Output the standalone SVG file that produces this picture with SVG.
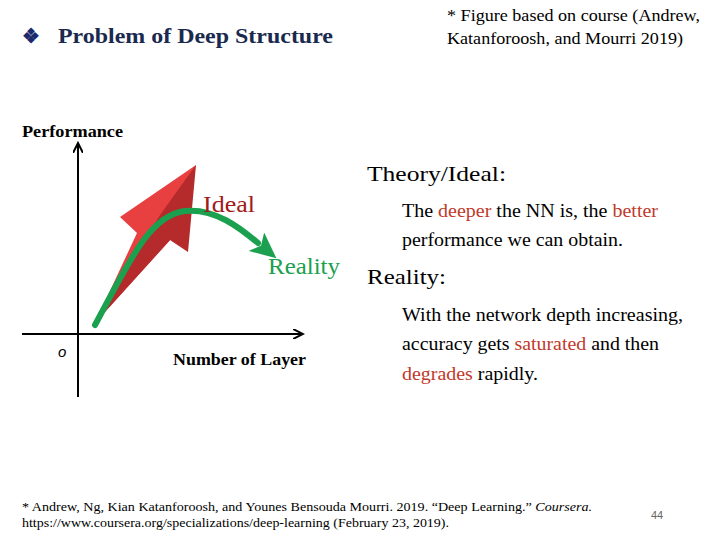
<svg xmlns="http://www.w3.org/2000/svg" width="720" height="540" viewBox="0 0 720 540">
<style>
text{font-family:"Liberation Serif","Times New Roman",serif;fill:#000}
.r{fill:#c0392b}
</style>
<defs>
<marker id="ax" markerWidth="12" markerHeight="10" refX="10" refY="5" orient="auto" markerUnits="userSpaceOnUse"><path d="M0,0 L10,5 L0,10" fill="none" stroke="#000" stroke-width="2"/></marker>
<marker id="gh" markerWidth="30" markerHeight="24" refX="2" refY="12" orient="auto" markerUnits="userSpaceOnUse"><path d="M0,0 L26,12 L0,24 L6,12 Z" fill="#1aa04f"/></marker>
</defs>
<rect width="720" height="540" fill="#fff"/>
<g id="title">
<text x="22" y="43" font-size="20" font-weight="bold" style="fill:#1a2a6c">❖</text>
<text x="58" y="43" font-size="21" font-weight="bold" textLength="275" lengthAdjust="spacingAndGlyphs" style="fill:#1a2a4f">Problem of Deep Structure</text>
</g>
<g id="figure-note">
<text x="447" y="21" font-size="17" textLength="253" lengthAdjust="spacingAndGlyphs">* Figure based on course (Andrew,</text>
<text x="447" y="44" font-size="17" textLength="236" lengthAdjust="spacingAndGlyphs">Katanforoosh, and Mourri 2019)</text>
</g>
<g id="chart">
<text x="22" y="137" font-size="16" font-weight="bold" textLength="101" lengthAdjust="spacingAndGlyphs">Performance</text>
<polygon points="95,323 137,233 120,217 196,165 172,238" fill="#e84040"/>
<polygon points="196,165 188,252 170,240 95,323 160,215" fill="#b52a2a"/>
<path d="M95,325 C130,260 150,215 185,211 C215,208 240,228 258,243" fill="none" stroke="#1aa04f" stroke-width="6" stroke-linecap="round" marker-end="url(#gh)"/>
<text x="203" y="212" font-size="23" textLength="52" lengthAdjust="spacingAndGlyphs" style="fill:#a01c1c">Ideal</text>
<text x="268" y="274" font-size="23" textLength="72" lengthAdjust="spacingAndGlyphs" style="fill:#1aa04f">Reality</text>
<g id="connectors">
<line x1="78" y1="397" x2="78" y2="143" stroke="#000" stroke-width="2" marker-end="url(#ax)"/>
<line x1="22" y1="334" x2="303" y2="334" stroke="#000" stroke-width="2" marker-end="url(#ax)"/>
</g>
<text x="58" y="357" font-size="15" font-style="italic" style="font-family:'Liberation Sans',sans-serif">o</text>
<text x="173" y="365" font-size="16" font-weight="bold" textLength="133" lengthAdjust="spacingAndGlyphs">Number of Layer</text>
</g>
<g id="text">
<text x="367" y="181" font-size="22" textLength="139" lengthAdjust="spacingAndGlyphs">Theory/Ideal:</text>
<text x="402" y="217" font-size="18" textLength="256" lengthAdjust="spacingAndGlyphs">The <tspan class="r">deeper</tspan> the NN is, the <tspan class="r">better</tspan></text>
<text x="402" y="246" font-size="18" textLength="221" lengthAdjust="spacingAndGlyphs">performance we can obtain.</text>
<text x="367" y="284" font-size="22" textLength="79" lengthAdjust="spacingAndGlyphs">Reality:</text>
<text x="402" y="321" font-size="18" textLength="281" lengthAdjust="spacingAndGlyphs">With the network depth increasing,</text>
<text x="402" y="350" font-size="18" textLength="257" lengthAdjust="spacingAndGlyphs">accuracy gets <tspan class="r">saturated</tspan> and then</text>
<text x="402" y="380" font-size="18" textLength="136" lengthAdjust="spacingAndGlyphs"><tspan class="r">degrades</tspan> rapidly.</text>
</g>
<g id="footer">
<text x="22" y="511" font-size="13" textLength="570" lengthAdjust="spacingAndGlyphs">* Andrew, Ng, Kian Katanforoosh, and Younes Bensouda Mourri. 2019. “Deep Learning.” <tspan font-style="italic">Coursera.</tspan></text>
<text x="22" y="527" font-size="13" textLength="427" lengthAdjust="spacingAndGlyphs">https://www.coursera.org/specializations/deep-learning (February 23, 2019).</text>
<text x="657" y="519" font-size="11" text-anchor="middle" style="font-family:'Liberation Sans',sans-serif;fill:#666">44</text>
</g>
</svg>
